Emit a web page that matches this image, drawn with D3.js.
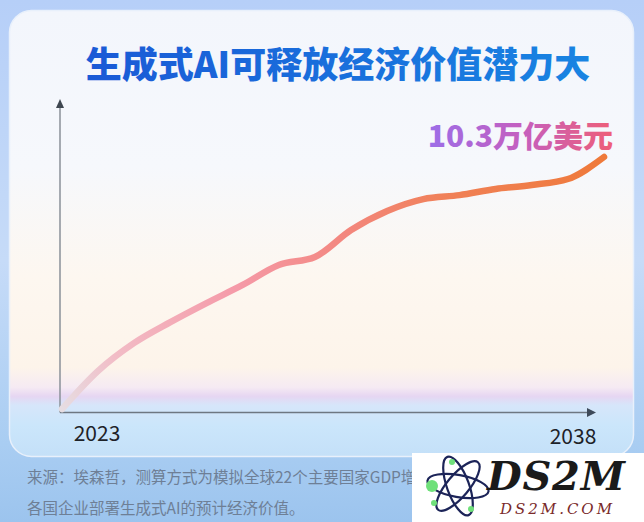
<!DOCTYPE html>
<html><head><meta charset="utf-8">
<script src="https://cdn.jsdelivr.net/npm/d3@7/dist/d3.min.js"></script>
<style>html,body{margin:0;padding:0;background:#fff;}svg{display:block;}</style>
</head><body>
<script>
const title = "生成式AI可释放经济价值潜力大";
const endLabel = "10.3万亿美元";
const years = [2023,2024,2025,2026,2027,2028,2029,2030,2031,2032,2033,2034,2035,2036,2037,2038];
const values = [0.12,1.66,2.79,3.63,4.40,5.13,5.94,6.26,7.35,8.12,8.60,8.76,9.01,9.17,9.41,10.3];
const tickYears = [2023,2038];
const sourceLines = ["来源：埃森哲，测算方式为模拟全球22个主要国家GDP增","各国企业部署生成式AI的预计经济价值。"];

const W=644,H=522;
const svg=d3.select("body").append("svg").attr("width",W).attr("height",H);
const defs=svg.append("defs");

// outer background
const bg=defs.append("linearGradient").attr("id","bg").attr("x1",0).attr("y1",0).attr("x2",0).attr("y2",1);
[[0,"#b6cff8"],[0.5,"#c6dbf8"],[0.85,"#a9cdf2"],[1,"#9cc4ee"]].forEach(s=>bg.append("stop").attr("offset",s[0]).attr("stop-color",s[1]));
svg.append("rect").attr("width",W).attr("height",H).attr("fill","url(#bg)");

// card
const cg=defs.append("linearGradient").attr("id","card").attr("x1",0).attr("y1",0).attr("x2",0).attr("y2",1);
[[0,"#f3f6fc"],[0.35,"#f6f8fc"],[0.6,"#fdf7f0"],[0.8,"#fdf4ea"],[0.845,"#f5eaf3"],[0.865,"#e6d6f2"],[0.885,"#d6e6fa"],[0.93,"#cbe6fb"],[1,"#c4e0f8"]].forEach(s=>cg.append("stop").attr("offset",s[0]).attr("stop-color",s[1]));
svg.append("rect").attr("x",9.5).attr("y",10.5).attr("width",624).attr("height",446).attr("rx",22)
  .attr("fill","url(#card)").attr("stroke","#e8f0fb").attr("stroke-width",1.5);

// title
const tg=defs.append("linearGradient").attr("id","tg").attr("x1",0).attr("y1",0).attr("x2",1).attr("y2",0);
[[0,"#1a5ad6"],[1,"#1884e2"]].forEach(s=>tg.append("stop").attr("offset",s[0]).attr("stop-color",s[1]));
svg.append("text").attr("x",338).attr("y",78).attr("text-anchor","middle")
  .attr("font-family","'Noto Sans CJK SC'").attr("font-weight",900).attr("font-size",36)
  .attr("fill","url(#tg)").text(title);

// scales
const x=d3.scaleLinear().domain([2023,2038]).range([62,604]);
const y=d3.scaleLinear().domain([0,10.3]).range([412,157]);

// axes
const axisColor="#6e7782";
svg.append("line").attr("x1",60).attr("y1",412.5).attr("x2",60).attr("y2",106).attr("stroke","#8a9098").attr("stroke-width",1.5);
svg.append("path").attr("d","M56,108 L60,99 L64,108 Z").attr("fill","#3e4650");
svg.append("line").attr("x1",60).attr("y1",412.5).attr("x2",588).attr("y2",412.5).attr("stroke",axisColor).attr("stroke-width",1.5);
svg.append("path").attr("d","M587,408 L596,412.5 L587,417 Z").attr("fill","#3e4a5a");

// line gradient
const lg=defs.append("linearGradient").attr("id","lg").attr("gradientUnits","userSpaceOnUse")
  .attr("x1",62).attr("y1",410).attr("x2",604).attr("y2",157);
[[0,"#e6dde2"],[0.12,"#f2bcc6"],[0.35,"#f59aa8"],[0.55,"#f3877f"],[0.75,"#f08055"],[1,"#ef7a3a"]].forEach(s=>lg.append("stop").attr("offset",s[0]).attr("stop-color",s[1]));
const line=d3.line().x((d,i)=>x(years[i])).y(d=>y(d)).curve(d3.curveMonotoneX);
svg.append("path").attr("d",line(values)).attr("fill","none").attr("stroke","url(#lg)")
  .attr("stroke-width",6.5).attr("stroke-linecap","round").attr("stroke-linejoin","round");

// end label
const eg=defs.append("linearGradient").attr("id","eg").attr("x1",0).attr("y1",0).attr("x2",1).attr("y2",0);
[[0,"#9c6ee8"],[0.5,"#c45fc0"],[1,"#ee5f78"]].forEach(s=>eg.append("stop").attr("offset",s[0]).attr("stop-color",s[1]));
svg.append("text").attr("x",613).attr("y",147).attr("text-anchor","end")
  .attr("font-family","'Noto Sans CJK SC'").attr("font-weight",900).attr("font-size",30)
  .attr("fill","url(#eg)").text(endLabel);

// year ticks
svg.selectAll("text.yr").data(tickYears).enter().append("text").attr("class","yr")
  .attr("x",d=>d===2023?97:573).attr("y",d=>d===2023?441:444).attr("text-anchor","middle")
  .attr("font-family","'Noto Sans CJK SC'").attr("font-size",21).attr("fill","#1e2228")
  .text(d=>d);

// source
svg.selectAll("text.src").data(sourceLines).enter().append("text").attr("class","src")
  .attr("x",27).attr("y",(d,i)=>483+i*31)
  .attr("font-family","'Noto Sans CJK SC'").attr("font-size",15.5).attr("fill","#6e7f96")
  .text(d=>d);

// watermark logo
const lgG=svg.append("g");
lgG.append("rect").attr("x",412).attr("y",453).attr("width",232).attr("height",69).attr("fill","#ffffff");
const ax=458,ay=486;
[[0],[60],[-60]].forEach(r=>lgG.append("ellipse").attr("cx",ax).attr("cy",ay).attr("rx",31).attr("ry",11)
  .attr("transform",`rotate(${r[0]+70},${ax},${ay})`).attr("fill","none").attr("stroke","#1c2458").attr("stroke-width",2.2));
[[432,486,6],[452,462,3],[434,503,3],[471,509,3]].forEach(c=>lgG.append("circle").attr("cx",c[0]).attr("cy",c[1]).attr("r",c[2]).attr("fill","#6fe07a"));
lgG.append("text").attr("x",487).attr("y",490).attr("font-family","'DejaVu Serif'").attr("font-weight","bold")
  .attr("font-style","italic").attr("font-size",40).attr("fill","#1a1a1a").attr("textLength",138).text("DS2M");
lgG.append("text").attr("x",500).attr("y",514).attr("font-family","'DejaVu Serif'").attr("font-style","italic")
  .attr("font-size",15).attr("fill","#7a2a2a").attr("textLength",112).text("DS2M.COM");
</script>
</body></html>
